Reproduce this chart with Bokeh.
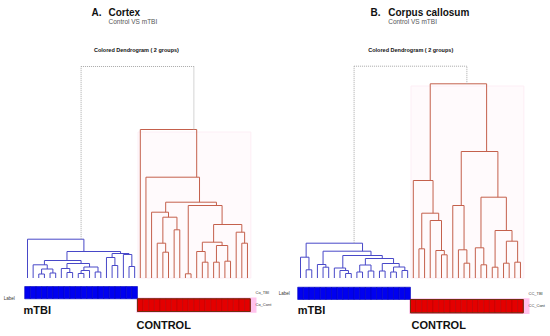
from bokeh.plotting import figure
from bokeh.models import Range1d, Label
from bokeh.layouts import row
from bokeh.embed import file_html
from bokeh.resources import INLINE

# ---------------- data ----------------
# trees written as nested pairs "(left,right)height"; leaves are sample positions 0..39
panel_letters = ["A.", "B."]
panel_titles = ["Cortex", "Corpus callosum"]
panel_subtitles = ["Control VS mTBI", "Control VS mTBI"]
dend_title = "Colored Dendrogram ( 2  groups)"
group_names = ["mTBI", "CONTROL"]
row_labels_a = ["Co_TBI", "Co_Cont"]
row_labels_b = ["CC_TBI", "CC_Cont"]
n_tbi = 20
n_ctrl = 20

tree_a_tbi = ("(0,(((1,((2,3)0.4,(4,5)0.5)0.9)1.32,((6,(7,8)0.55)0.95,(((9,10)0.45,11)0.75,"
              "(12,13)0.6)1.1)1.45)1.75,((14,(15,16)1.25)2.05,(17,(18,19)1.15)2.35)2.45)2.65)3.88")
tree_a_ctrl = ("(20,(21,((22,((23,(24,25)2.58)3.48,(26,27)4.82)6.08)6.58,((28,29)0.42,"
               "(((30,(31,32)1.58)2.65,((33,34)1.58,(35,36)1.68)3.25)3.58,(37,(38,39)3.48)4.58)5.35)7.25)7.58)10.08)14.85")
root_a = 21.15

tree_b_tbi = ("((0,(1,2)0.82)2.08,((3,(4,5)1.08)1.35,((6,(7,(8,9)0.45)0.75)1.0,(((10,11)0.6,"
              "(12,13)0.7)1.3,((14,15)0.7,((16,17)0.6,(18,19)0.75)1.1)1.45)1.95)2.25)2.68)3.48")
tree_b_ctrl = ("((20,((21,22)2.92,(23,(24,(25,26)2.32)2.75)5.75)6.48)9.75,((27,(28,(29,30)1.48)2.82)7.25,"
               "((31,(32,33)1.32)3.02,((34,35)1.08,((36,37)1.48,(38,39)1.58)3.68)4.75)8.08)12.65)19.42")
root_b = 21.18

BLUE_LINE = "#4848c8"
RED_LINE = "#c4604c"
FONT = "Liberation Sans"
H = 332


def parse(s):
    pos = 0

    def node():
        nonlocal pos
        if s[pos] == "(":
            pos += 1
            a = node()
            pos += 1  # ','
            b = node()
            pos += 1  # ')'
            st = pos
            while pos < len(s) and (s[pos].isdigit() or s[pos] == "."):
                pos += 1
            return (a, b, float(s[st:pos]))
        st = pos
        while pos < len(s) and s[pos].isdigit():
            pos += 1
        return int(s[st:pos])

    return node()


def layout(t, segs):
    if isinstance(t, int):
        return float(t), 0.0, [t]
    a, b, h = t
    xa, ha, la = layout(a, segs)
    xb, hb, lb = layout(b, segs)
    segs.append((xa, h, xb, h))
    segs.append((xa, ha, xa, h))
    segs.append((xb, hb, xb, h))
    lv = la + lb
    return sum(lv) / len(lv), h, lv


def draw_segs(p, segs, color, dash="solid"):
    p.segment(x0=[s[0] for s in segs], y0=[s[1] for s in segs],
              x1=[s[2] for s in segs], y1=[s[3] for s in segs],
              line_color=color, line_width=1, line_dash=dash)


def lab(p, x, y, text, size, bold=False, color="#111111", align="left"):
    p.add_layout(Label(x=x, y=H - y, x_units="screen", y_units="screen", text=text,
                       text_font=FONT, text_font_size=size,
                       text_font_style="bold" if bold else "normal",
                       text_color=color, text_align=align, text_baseline="middle"))


def panel(width, leaf0_x, tree_tbi, tree_ctrl, root_h, letter, title, sub, rows, bar_y, offs):
    xs = -leaf0_x / 5.64
    p = figure(width=width, height=H, output_backend="svg", toolbar_location=None,
               x_range=Range1d(xs, xs + width / 5.64),
               y_range=Range1d(-(H - 277.5) / 10, 277.5 / 10),
               min_border=0)
    p.axis.visible = False
    p.grid.visible = False
    p.outline_line_color = None
    p.background_fill_color = "white"

    # faint cluster rectangle behind the control branch
    p.quad(left=[n_tbi - 0.4], right=[n_tbi + n_ctrl - 0.4], bottom=[0], top=[offs["rect_top"]],
           fill_color="#fffafc", line_color="#fdeef5", line_width=1)

    s1, s2 = [], []
    x1, h1, _ = layout(parse(tree_tbi), s1)
    x2, h2, _ = layout(parse(tree_ctrl), s2)
    draw_segs(p, s1, BLUE_LINE)
    draw_segs(p, s2, RED_LINE)
    draw_segs(p, [(x1, root_h, x2, root_h), (x1, h1, x1, root_h), (x2, h2, x2, root_h)],
              "#a8a8a8", dash="1 1")

    # label bars
    t0, t1, t2 = bar_y
    p.quad(left=[n_tbi - 0.7], right=[n_tbi + n_ctrl + 0.6], bottom=[t2 - 0.12], top=[t1 + 0.12],
           fill_color="#ffc2ec", line_color=None)
    tb = list(range(n_tbi))
    cb = list(range(n_tbi, n_tbi + n_ctrl))
    p.quad(left=[i - 0.5 for i in tb], right=[i + 0.5 for i in tb], bottom=[t1] * n_tbi,
           top=[t0] * n_tbi, fill_color="#0000f0", line_color="#0000b8", line_width=0.6)
    p.quad(left=[i - 0.5 for i in cb], right=[i + 0.5 for i in cb], bottom=[t2] * n_ctrl,
           top=[t1] * n_ctrl, fill_color="#e40000", line_color="#b80000", line_width=0.6)
    p.quad(left=[n_tbi - 0.5], right=[n_tbi + n_ctrl - 0.5], bottom=[t2], top=[t1],
           fill_color=None, line_color="#6e3010", line_width=1)

    lab(p, offs["letter_x"], 11.7, letter, "10px", bold=True)
    lab(p, offs["title_x"], 11.7, title, "10px", bold=True)
    lab(p, offs["title_x"], 20.7, sub, "6.5px", color="#555555")
    lab(p, offs["dend_x"], 49.3, dend_title, "5.5px", bold=True, align="center")
    lab(p, offs["label_x"], offs["label_y"], "Label", "4.5px", color="#333333")
    lab(p, offs["row_x"], offs["row_y"][0], rows[0], "4px", color="#333333")
    lab(p, offs["row_x"], offs["row_y"][1], rows[1], "4px", color="#333333")
    lab(p, offs["mtbi_x"], 309.3, group_names[0], "11px", bold=True)
    lab(p, offs["ctrl_x"], 324.3, group_names[1], "11px", bold=True)
    return p


pa = panel(275, 27, tree_a_tbi, tree_a_ctrl, root_a, panel_letters[0], panel_titles[0],
           panel_subtitles[0], row_labels_a, (-0.85, -2.08, -3.35),
           dict(rect_top=14.6, letter_x=91, title_x=108, dend_x=136.7, label_x=3.3, label_y=298.3,
                row_x=255, row_y=(291.7, 304.3), mtbi_x=23, ctrl_x=136))
pb = panel(272, 25, tree_b_tbi, tree_b_ctrl, root_b, panel_letters[1], panel_titles[1],
           panel_subtitles[1], row_labels_b, (-0.92, -2.15, -3.48),
           dict(rect_top=19.2, letter_x=95, title_x=112.7, dend_x=136, label_x=3.3, label_y=292.7,
                row_x=253, row_y=(292.7, 305), mtbi_x=22.3, ctrl_x=136))

layout_row = row(pa, pb)
open("out.html", "w").write(file_html(layout_row, INLINE))
